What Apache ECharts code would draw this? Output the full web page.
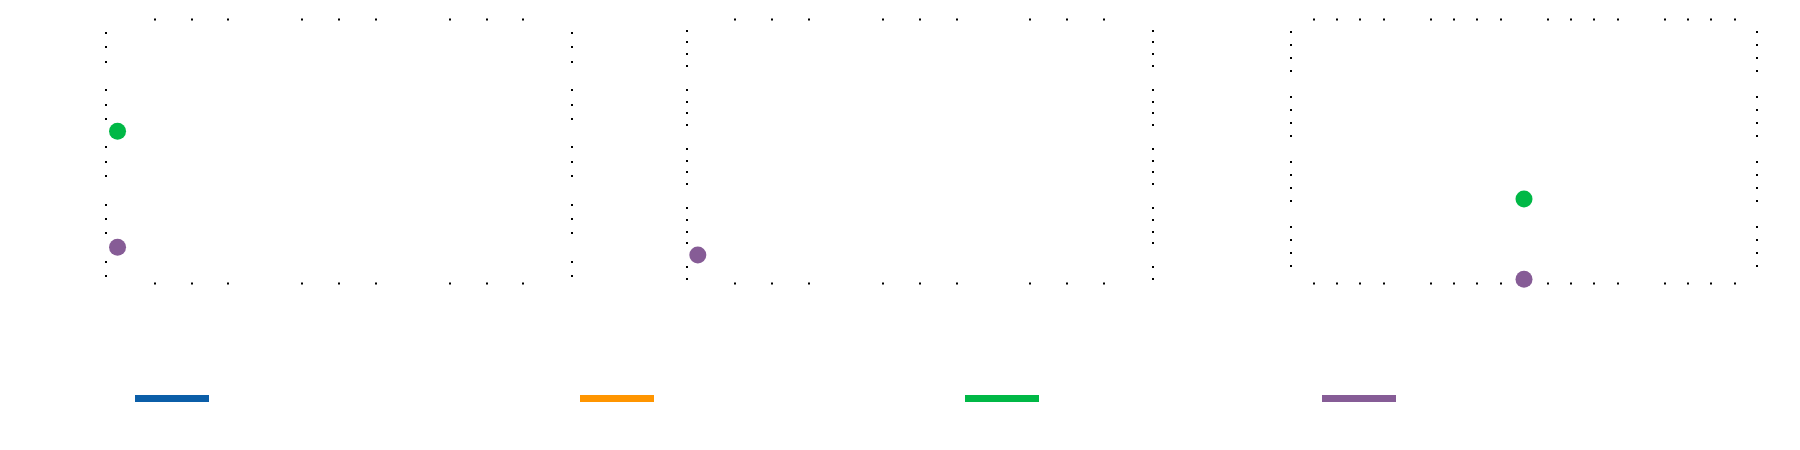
<!DOCTYPE html>
<html>
<head>
<meta charset="utf-8">
<script src="https://cdn.jsdelivr.net/npm/echarts@6/dist/echarts.min.js"></script>
<style>html,body{margin:0;padding:0;background:#fff}#c{width:1800px;height:450px}</style>
</head>
<body>
<div id="c"></div>
<script>
// ---- data ----
const seriesNames = ['Series A', 'Series B', 'Series C', 'Series D'];
const seriesColors = ['#0b5ea8', '#ff9500', '#00b846', '#865c96'];
// one list of [x, y] points per panel
const blueData = [[], [], []];
const orangeData = [[], [], []];
const greenData = [[[0, 2.03]], [], [[2, 1.23]]];
const purpleData = [[[0, 0]], [[0, 0]], [[2, 0]]];
// axis ranges per panel
const xMin = [-0.085, -0.08, 0];
const xMax = [3.088, 3.088, 4];
const yMin = [-0.65, -0.5, -0.08];
const yMax = [4, 4, 4];
const xMinorSplit = [4, 4, 5];
const yMinorSplit = [4, 5, 5];

// ---- layout ----
const gridLeft = [105, 686, 1290];
const gridWidth = 468;
const gridTop = 18.5;
const gridHeight = 266;
const legendLeft = [135, 580, 965, 1322];

const allData = [blueData, orangeData, greenData, purpleData];

function axisBase(extra, minorSplit) {
  return Object.assign({
    type: 'value',
    axisLine: { show: false, onZero: false },
    axisTick: { show: false, inside: true },
    axisLabel: { show: false },
    splitLine: { show: false },
    minorTick: { show: true, splitNumber: minorSplit, length: 2, lineStyle: { color: '#000', width: 2 } }
  }, extra);
}

const grid = [], xAxis = [], yAxis = [], series = [];
for (let p = 0; p < 3; p++) {
  grid.push({ left: gridLeft[p], top: gridTop, width: gridWidth, height: gridHeight });
  const xs = p < 2 ? 3 : 5;
  ['bottom', 'top'].forEach(pos => {
    xAxis.push(axisBase({ gridIndex: p, position: pos, min: xMin[p], max: xMax[p], splitNumber: xs }, xMinorSplit[p]));
  });
  ['left', 'right'].forEach(pos => {
    yAxis.push(axisBase({ gridIndex: p, position: pos, min: yMin[p], max: yMax[p], splitNumber: 5 }, yMinorSplit[p]));
  });
  for (let s = 0; s < 4; s++) {
    series.push({
      type: 'scatter',
      name: seriesNames[s],
      xAxisIndex: p * 2,
      yAxisIndex: p * 2,
      data: allData[s][p],
      symbolSize: 17,
      itemStyle: { color: seriesColors[s], opacity: 1 },
      emphasis: { disabled: true }
    });
  }
}

const legend = seriesNames.map((n, i) => ({
  data: [n],
  left: legendLeft[i],
  top: 395,
  padding: 0,
  icon: 'rect',
  itemWidth: 74,
  itemHeight: 7,
  selectedMode: false,
  formatter: () => ''
}));

const chart = echarts.init(document.getElementById('c'), null, { renderer: 'canvas' });
chart.setOption({
  animation: false,
  color: seriesColors,
  legend: legend,
  grid: grid,
  xAxis: xAxis,
  yAxis: yAxis,
  series: series
});
</script>
</body>
</html>
